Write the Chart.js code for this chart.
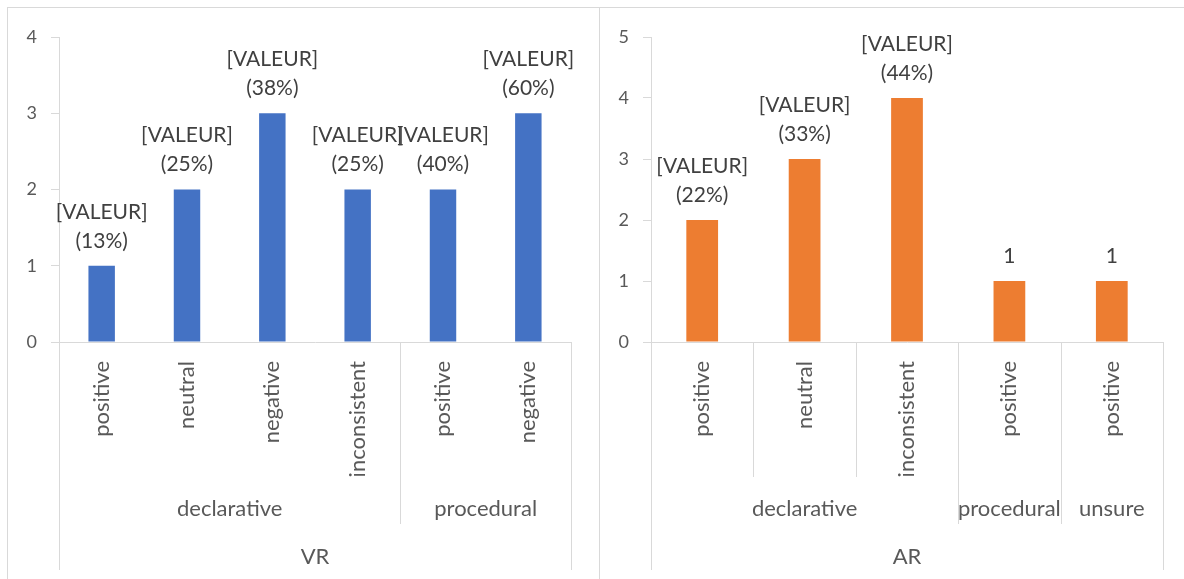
<!DOCTYPE html>
<html>
<head>
<meta charset="utf-8">
<script src="https://cdn.jsdelivr.net/npm/chart.js@4.4.0/dist/chart.umd.min.js"></script>
<style>
  body { margin: 0; background: #fff; overflow: hidden; }
  .panel { position: absolute; top: 7px; height: 600px; border: 1px solid #d9d9d9; box-sizing: border-box; }
  #p1 { left: 7px; width: 593px; }
  #p2 { left: 599px; width: 600px; }
  canvas { position: absolute; left: 0; top: 0; }
</style>
</head>
<body>
<div class="panel" id="p1"><canvas id="vr" width="591" height="571"></canvas></div>
<div class="panel" id="p2"><canvas id="ar" width="584" height="571"></canvas></div>
<script>
// VR chart data
var vrCategories = ['positive', 'neutral', 'negative', 'inconsistent', 'positive', 'negative'];
var vrGroups = ['declarative', 'declarative', 'declarative', 'declarative', 'procedural', 'procedural'];
var vrValues = [1, 2, 3, 2, 2, 3];
var vrPercents = ['13%', '25%', '38%', '25%', '40%', '60%'];

// AR chart data
var arCategories = ['positive', 'neutral', 'inconsistent', 'positive', 'positive'];
var arGroups = ['declarative', 'declarative', 'declarative', 'procedural', 'unsure'];
var arValues = [2, 3, 4, 1, 1];
var arPercents = ['22%', '33%', '44%', null, null];

var textGrey = '#595959';
var lineGrey = '#d9d9d9';
var font = 'Lato';

// value labels above bars
var valueLabels = {
  id: 'valueLabels',
  afterDatasetsDraw: function(chart) {
    var o = chart.options.plugins.valueLabels;
    var ctx = chart.ctx;
    var meta = chart.getDatasetMeta(0);
    ctx.save();
    ctx.fillStyle = '#404040';
    ctx.font = '21px ' + font;
    ctx.textAlign = 'center';
    ctx.textBaseline = 'middle';
    meta.data.forEach(function(bar, i) {
      var p = o.percents[i];
      if (p) {
        ctx.fillText('[VALEUR]', bar.x, bar.y - 54);
        ctx.fillText('(' + p + ')', bar.x, bar.y - 25);
      } else {
        ctx.fillText(String(o.values[i]), bar.x, bar.y - 25);
      }
    });
    ctx.restore();
  }
};

// group labels + separators under the category axis
var multiLevel = {
  id: 'multiLevel',
  afterDraw: function(chart) {
    var o = chart.options.plugins.multiLevel;
    var x = chart.scales.x;
    var ctx = chart.ctx;
    var n = o.groups.length;
    var half = (x.getPixelForValue(1) - x.getPixelForValue(0)) / 2;
    var b = [];
    for (var i = 0; i <= n; i++) b.push(x.getPixelForValue(i) - half);
    var top = x.top;

    function vline(px, y2) {
      var xx = Math.round(px) + 0.5;
      ctx.beginPath();
      ctx.moveTo(xx, top);
      ctx.lineTo(xx, y2);
      ctx.stroke();
    }

    ctx.save();
    ctx.strokeStyle = lineGrey;
    ctx.lineWidth = 1;
    vline(b[0], 562);
    vline(b[n], 562);
    for (var j = 1; j < n; j++) {
      if (o.groups[j] !== o.groups[j - 1]) vline(b[j], 516);
      else if (o.leafLines) vline(b[j], 469);
    }

    ctx.fillStyle = textGrey;
    ctx.font = '22px ' + font;
    ctx.textAlign = 'center';
    ctx.textBaseline = 'middle';
    var start = 0;
    for (var k = 1; k <= n; k++) {
      if (k === n || o.groups[k] !== o.groups[start]) {
        ctx.fillText(o.groups[start], (b[start] + b[k]) / 2, 501);
        start = k;
      }
    }
    ctx.fillText(o.title, (b[0] + b[n]) / 2, 549);
    ctx.restore();
  }
};

function makeChart(id, cats, groups, values, percents, color, yMax, title, leafLines, padRight) {
  return new Chart(document.getElementById(id), {
    type: 'bar',
    data: {
      labels: cats,
      datasets: [{
        data: values,
        backgroundColor: color,
        barPercentage: 0.31,
        categoryPercentage: 1
      }]
    },
    options: {
      responsive: false,
      animation: false,
      devicePixelRatio: 1,
      layout: { padding: { top: 29, right: padRight, left: 0, bottom: 0 } },
      plugins: {
        legend: { display: false },
        tooltip: { enabled: false },
        valueLabels: { percents: percents, values: values },
        multiLevel: { groups: groups, title: title, leafLines: leafLines }
      },
      scales: {
        x: {
          grid: { display: false },
          border: { display: true, color: lineGrey },
          ticks: {
            autoSkip: false, minRotation: 90, maxRotation: 90, padding: 11,
            color: textGrey, font: { family: font, size: 22 }
          },
          afterFit: function(s) { s.height = 571 - 334; }
        },
        y: {
          min: 0, max: yMax,
          grid: { display: true, drawOnChartArea: false, drawTicks: true, tickLength: 8, color: lineGrey },
          border: { display: true, color: lineGrey },
          ticks: { stepSize: 1, padding: 14, color: textGrey, font: { family: font, size: 18 } },
          afterFit: function(s) { s.width = 51; }
        }
      }
    },
    plugins: [valueLabels, multiLevel]
  });
}

makeChart('vr', vrCategories, vrGroups, vrValues, vrPercents, '#4472C4', 4, 'VR', false, 28);
makeChart('ar', arCategories, arGroups, arValues, arPercents, '#ED7D31', 5, 'AR', true, 21);
</script>
</body>
</html>
